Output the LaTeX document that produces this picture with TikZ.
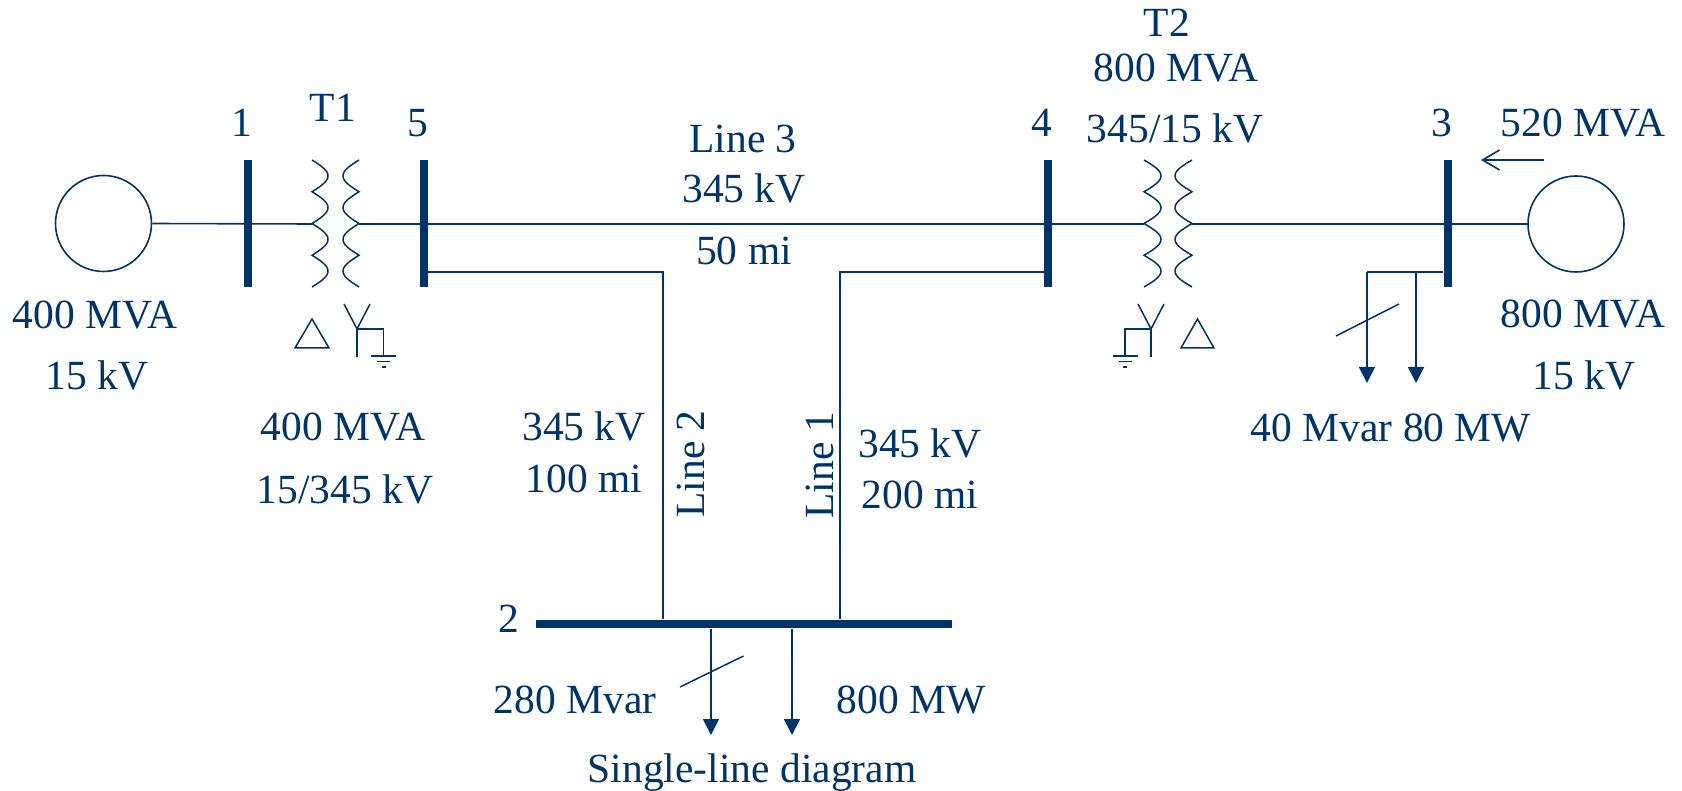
\documentclass[tikz,border=0pt]{standalone}
\usepackage{fontspec}
\setmainfont{Liberation Serif}
\usetikzlibrary{arrows.meta}
\definecolor{dblue}{RGB}{0,51,102}
\begin{document}
\begin{tikzpicture}[x=1pt,y=-1pt,color=dblue,line width=1.6pt,
  busV/.style={rectangle,fill=dblue,inner sep=0pt,minimum width=8pt,minimum height=127pt},
  busH/.style={rectangle,fill=dblue,inner sep=0pt,minimum width=416pt,minimum height=8pt},
  gen/.style={circle,draw=dblue,line width=1.6pt,inner sep=0pt,minimum size=96pt},
  lbl/.style={anchor=base,inner sep=0pt,text=dblue,font=\fontsize{41.5}{48}\selectfont},
  vlbl/.style={anchor=center,inner sep=0pt,text=dblue,rotate=90,font=\fontsize{41.5}{48}\selectfont},
  loadarrow/.style={line width=1.8pt,-{Triangle[length=16pt,width=16pt]}},
  flowarrow/.style={-{Straight Barb[length=17pt,width=20pt]}}]
\useasboundingbox (0,0) rectangle (1682,791);

% generators and buses
\node[gen] (g1) at (103.5,223.5) {};
\node[gen] (g3) at (1576,224) {};
\node[busV] (b1) at (248,223.5) {};
\node[busV] (b5) at (424,223.5) {};
\node[busV] (b4) at (1048,223.5) {};
\node[busV] (b3) at (1448,223.5) {};
\node[busH] (b2) at (744,624) {};

% transformer terminals
\coordinate (t1a) at (312,224);
\coordinate (t1b) at (359,224);
\coordinate (t2a) at (1144,224);
\coordinate (t2b) at (1192,224);

% main line
\draw (g1.east) -- (t1a);
\draw (t1b) -- (t2a);
\draw (t2b) -- (g3.west);

% Line 2 and Line 1
\coordinate (l2s) at (428,272);
\coordinate (l2c) at (663,272);
\draw (l2s) -- (l2c) -- (l2c |- b2.north);
\coordinate (l1s) at (1044,272);
\coordinate (l1c) at (840,272);
\draw (l1s) -- (l1c) -- (l1c |- b2.north);

% coils
\draw[line width=1.5pt] plot[domain=0:4,samples=161] ({312+16*abs(sin(\x*180))},{160+31.75*\x});
\draw[line width=1.5pt] plot[domain=0:4,samples=161] ({359-16*abs(sin(\x*180))},{160+31.75*\x});
\draw[line width=1.5pt] plot[domain=0:4,samples=161] ({1144+17*abs(sin(\x*180))},{160+31.75*\x});
\draw[line width=1.5pt] plot[domain=0:4,samples=161] ({1192-17*abs(sin(\x*180))},{160+31.75*\x});

% T1 delta / wye-grounded
\draw[line width=1.5pt] (295,348) -- (329,348) -- (312,319) -- cycle;
\draw[line width=1.5pt] (344,304) -- (357,329) -- (370,304);
\draw[line width=1.5pt] (357,329) -- (357,357);
\draw[line width=1.5pt] (357,329) -- (383.5,329) -- (383.5,356);
\draw[line width=1.5pt] (371,356) -- (396,356);
\draw[line width=1.5pt] (377,361.5) -- (390,361.5);
\draw[line width=1.5pt] (381.5,367) -- (385.5,367);

% T2 wye-grounded / delta
\draw[line width=1.5pt] (1181,348) -- (1214,348) -- (1197.5,319) -- cycle;
\draw[line width=1.5pt] (1138,304) -- (1151,329) -- (1164,304);
\draw[line width=1.5pt] (1151,329) -- (1151,357);
\draw[line width=1.5pt] (1151,329) -- (1125,329) -- (1125,356);
\draw[line width=1.5pt] (1112.5,356) -- (1137.5,356);
\draw[line width=1.5pt] (1118.5,361.5) -- (1131.5,361.5);
\draw[line width=1.5pt] (1123,367) -- (1127,367);

% bus 3 loads
\coordinate (ld3a) at (1367,272);
\coordinate (ld3b) at (1416,272);
\coordinate (ld3ae) at (1367,383);
\coordinate (ld3be) at (1416,383);
\draw (b3.west |- ld3a) -- (ld3a);
\draw[loadarrow] (ld3a) -- (ld3ae);
\draw[loadarrow] (ld3b) -- (ld3be);
\draw[line width=1.5pt] (1336,336) -- (1399,304);

% bus 2 loads
\coordinate (ld2a) at (711,735);
\coordinate (ld2b) at (792,735);
\draw[loadarrow] (ld2a |- b2.south) -- (ld2a);
\draw[loadarrow] (ld2b |- b2.south) -- (ld2b);
\draw[line width=1.5pt] (680,687) -- (743.5,656);

% flow arrow at generator 3
\coordinate (fa) at (1544,160);
\coordinate (fb) at (1481,160);
\draw[flowarrow] (fa) -- (fb);

% labels
\node[lbl] (n1) at (242,137) {1};
\node[lbl] (nT1) at (333,122) {T1};
\node[lbl] (n5) at (418,137) {5};
\node[lbl] (nL3) at (743,153) {Line 3};
\node[lbl] (nL3v) at (744,203) {345 kV};
\node[lbl] (nL3d) at (744,265) {50 mi};
\node[lbl] (n4) at (1042,137) {4};
\node[lbl] (nT2) at (1167,37) {T2};
\node[lbl] (nT2s) at (1176,82) {800 MVA};
\node[lbl] (nT2v) at (1175,143) {345/15 kV};
\node[lbl] (n3) at (1442,137) {3};
\node[lbl] (nflow) at (1583,137) {520 MVA};
\node[lbl] (ng1s) at (95,329) {400 MVA};
\node[lbl] (ng1v) at (97,390) {15 kV};
\node[lbl] (nT1s) at (343,441) {400 MVA};
\node[lbl] (nT1v) at (345,503) {15/345 kV};
\node[lbl] (nL2v) at (584,441) {345 kV};
\node[lbl] (nL2d) at (584,493) {100 mi};
\node[vlbl] (nL2) at (691,464) {Line 2};
\node[vlbl] (nL1) at (820,465) {Line 1};
\node[lbl] (nL1v) at (920,457) {345 kV};
\node[lbl] (nL1d) at (920,508) {200 mi};
\node[lbl] (ng3s) at (1583,328) {800 MVA};
\node[lbl] (ng3v) at (1584,390) {15 kV};
\node[lbl] (nld3) at (1391,442) {40 Mvar 80 MW};
\node[lbl] (n2) at (509,632) {2};
\node[lbl] (nld2q) at (575,713) {280 Mvar};
\node[lbl] (nld2p) at (911,713) {800 MW};
\node[lbl] (ncap) at (752,782) {Single-line diagram};
\end{tikzpicture}
\end{document}
